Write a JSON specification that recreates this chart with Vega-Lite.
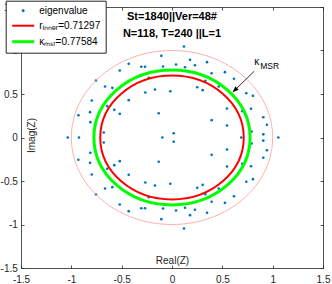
{
"$schema":"https://vega.github.io/schema/vega-lite/v6.json",
"width":302,"height":261,
"autosize":{"type":"none"},
"padding":{"left":21,"top":7,"right":9,"bottom":16},
"background":"white",
"config":{"view":{"stroke":null},"font":"Liberation Sans",
 "axis":{"grid":false,"domainColor":"#262626","tickColor":"#262626","labelColor":"#262626","titleColor":"#262626","labelFontSize":10,"titleFontSize":10,"titleFontWeight":"normal","tickSize":-3,"domainWidth":0.8,"tickWidth":0.8,"labelFont":"Liberation Sans","titleFont":"Liberation Sans","labelFlush":false,"labelOverlap":false}},
"datasets":{
 "eig":[
  {"re":-0.755,"im":0.655,"series":"eigenvalue"},{"re":-0.755,"im":-0.655,"series":"eigenvalue"},
  {"re":-0.519,"im":0.770,"series":"eigenvalue"},{"re":-0.519,"im":-0.770,"series":"eigenvalue"},
  {"re":-0.430,"im":0.847,"series":"eigenvalue"},{"re":-0.430,"im":-0.847,"series":"eigenvalue"},
  {"re":-0.305,"im":0.813,"series":"eigenvalue"},{"re":-0.305,"im":-0.813,"series":"eigenvalue"},
  {"re":-0.268,"im":0.813,"series":"eigenvalue"},{"re":-0.268,"im":-0.813,"series":"eigenvalue"},
  {"re":-0.106,"im":0.939,"series":"eigenvalue"},{"re":-0.106,"im":-0.939,"series":"eigenvalue"},
  {"re":-0.089,"im":0.816,"series":"eigenvalue"},{"re":-0.089,"im":-0.816,"series":"eigenvalue"},
  {"re":-0.231,"im":0.686,"series":"eigenvalue"},{"re":-0.231,"im":-0.686,"series":"eigenvalue"},
  {"re":0.119,"im":1.046,"series":"eigenvalue"},{"re":0.119,"im":-1.046,"series":"eigenvalue"},
  {"re":0.040,"im":0.839,"series":"eigenvalue"},{"re":0.040,"im":-0.839,"series":"eigenvalue"},
  {"re":0.179,"im":0.893,"series":"eigenvalue"},{"re":0.179,"im":-0.893,"series":"eigenvalue"},
  {"re":0.129,"im":0.808,"series":"eigenvalue"},{"re":0.129,"im":-0.808,"series":"eigenvalue"},
  {"re":0.228,"im":0.831,"series":"eigenvalue"},{"re":0.228,"im":-0.831,"series":"eigenvalue"},
  {"re":0.348,"im":0.866,"series":"eigenvalue"},{"re":0.348,"im":-0.866,"series":"eigenvalue"},
  {"re":0.394,"im":0.739,"series":"eigenvalue"},{"re":0.394,"im":-0.739,"series":"eigenvalue"},
  {"re":0.526,"im":0.751,"series":"eigenvalue"},{"re":0.526,"im":-0.751,"series":"eigenvalue"},
  {"re":0.331,"im":0.652,"series":"eigenvalue"},{"re":0.331,"im":-0.652,"series":"eigenvalue"},
  {"re":0.616,"im":0.675,"series":"eigenvalue"},{"re":0.616,"im":-0.675,"series":"eigenvalue"},
  {"re":-0.665,"im":0.586,"series":"eigenvalue"},{"re":-0.665,"im":-0.586,"series":"eigenvalue"},
  {"re":-0.593,"im":0.571,"series":"eigenvalue"},{"re":-0.593,"im":-0.571,"series":"eigenvalue"},
  {"re":-0.797,"im":0.425,"series":"eigenvalue"},{"re":-0.797,"im":-0.425,"series":"eigenvalue"},
  {"re":-0.643,"im":0.360,"series":"eigenvalue"},{"re":-0.643,"im":-0.360,"series":"eigenvalue"},
  {"re":-0.814,"im":0.291,"series":"eigenvalue"},{"re":-0.814,"im":-0.291,"series":"eigenvalue"},
  {"re":-0.930,"im":0.256,"series":"eigenvalue"},{"re":-0.930,"im":-0.256,"series":"eigenvalue"},
  {"re":-0.811,"im":0.176,"series":"eigenvalue"},{"re":-0.811,"im":-0.176,"series":"eigenvalue"},
  {"re":-0.678,"im":0.057,"series":"eigenvalue"},{"re":-0.678,"im":-0.057,"series":"eigenvalue"},
  {"re":-0.573,"im":0.318,"series":"eigenvalue"},{"re":-0.573,"im":-0.318,"series":"eigenvalue"},
  {"re":-0.430,"im":0.429,"series":"eigenvalue"},{"re":-0.430,"im":-0.429,"series":"eigenvalue"},
  {"re":-0.265,"im":0.517,"series":"eigenvalue"},{"re":-0.265,"im":-0.517,"series":"eigenvalue"},
  {"re":-0.169,"im":0.552,"series":"eigenvalue"},{"re":-0.169,"im":-0.552,"series":"eigenvalue"},
  {"re":-0.017,"im":0.532,"series":"eigenvalue"},{"re":-0.017,"im":-0.532,"series":"eigenvalue"},
  {"re":-0.519,"im":0.272,"series":"eigenvalue"},{"re":-0.519,"im":-0.272,"series":"eigenvalue"},
  {"re":-0.132,"im":0.279,"series":"eigenvalue"},{"re":-0.132,"im":-0.279,"series":"eigenvalue"},
  {"re":0.251,"im":0.578,"series":"eigenvalue"},{"re":0.251,"im":-0.578,"series":"eigenvalue"},
  {"re":0.305,"im":0.544,"series":"eigenvalue"},{"re":0.305,"im":-0.544,"series":"eigenvalue"},
  {"re":0.464,"im":0.586,"series":"eigenvalue"},{"re":0.464,"im":-0.586,"series":"eigenvalue"},
  {"re":0.546,"im":0.333,"series":"eigenvalue"},{"re":0.546,"im":-0.333,"series":"eigenvalue"},
  {"re":0.394,"im":0.199,"series":"eigenvalue"},{"re":0.394,"im":-0.199,"series":"eigenvalue"},
  {"re":0.546,"im":0.138,"series":"eigenvalue"},{"re":0.546,"im":-0.138,"series":"eigenvalue"},
  {"re":0.017,"im":0.049,"series":"eigenvalue"},{"re":0.017,"im":-0.049,"series":"eigenvalue"},
  {"re":0.738,"im":0.509,"series":"eigenvalue"},{"re":0.738,"im":-0.509,"series":"eigenvalue"},
  {"re":0.804,"im":0.479,"series":"eigenvalue"},{"re":0.804,"im":-0.479,"series":"eigenvalue"},
  {"re":0.698,"im":0.302,"series":"eigenvalue"},{"re":0.698,"im":-0.302,"series":"eigenvalue"},
  {"re":0.785,"im":0.330,"series":"eigenvalue"},{"re":0.785,"im":-0.330,"series":"eigenvalue"},
  {"re":0.907,"im":0.233,"series":"eigenvalue"},{"re":0.907,"im":-0.233,"series":"eigenvalue"},
  {"re":0.943,"im":0.146,"series":"eigenvalue"},{"re":0.943,"im":-0.146,"series":"eigenvalue"},
  {"re":0.791,"im":0.069,"series":"eigenvalue"},{"re":0.791,"im":-0.069,"series":"eigenvalue"},
  {"re":0.907,"im":0.036,"series":"eigenvalue"},{"re":0.907,"im":-0.036,"series":"eigenvalue"},
  {"re":-1.036,"im":0,"series":"eigenvalue"},{"re":-0.924,"im":0,"series":"eigenvalue"},
  {"re":-0.096,"im":0,"series":"eigenvalue"},{"re":0.688,"im":0,"series":"eigenvalue"},
  {"re":1.056,"im":0,"series":"eigenvalue"}
 ],
 "circ":[{"series":"rᵢₙₙₑᵣ=0.71297","r":0.71297},{"series":"κₘₛᵣ=0.77584","r":0.77584},{"series":"unit","r":1}],
 "arrow":[{"x0":0.817,"y0":0.762,"x1":0.603,"y1":0.521,"k":"κ","sub":"MSR","kx":0.841,"ky":0.868}],
 "notes":[{"t":"St=1840||Ver=48#","x":0,"y":1.38},{"t":"N=118, T=240  ||L=1","x":0,"y":1.19}]
},
"layer":[
 {"data":{"name":"eig"},"mark":{"type":"point","filled":true,"shape":"circle","size":7,"opacity":1},
  "encoding":{
   "x":{"field":"re","type":"quantitative","scale":{"domain":[-1.5,1.5],"nice":false,"zero":false},
        "axis":{"orient":"bottom","values":[-1.5,-1,-0.5,0,0.5,1,1.5],"labelExpr":"''+datum.value","title":"Real(Z)","titleY":-7.5,"titleBaseline":"middle","labelPadding":9.5}},
   "y":{"field":"im","type":"quantitative","scale":{"domain":[-1.5,1.5],"nice":false,"zero":false},
        "axis":{"orient":"left","values":[-1.5,-1,-0.5,0,0.5,1,1.5],"labelExpr":"''+datum.value","title":"Imag(Z)","titleX":10.5,"titleY":128,"titleBaseline":"middle","labelPadding":6.7}},
   "color":{"field":"series","type":"nominal",
        "scale":{"domain":["eigenvalue","rᵢₙₙₑᵣ=0.71297","κₘₛᵣ=0.77584"],"range":["#0072BD","#FF0000","#00FF00"]},
        "legend":{"orient":"none","legendX":-15.3,"legendY":-6.3,"title":null,"padding":5,"strokeColor":"#262626","fillColor":"white",
          "symbolType":{"expr":"datum.index === 0 ? 'M-0.2,0A0.2,0.2,0,1,1,0.2,0A0.2,0.2,0,1,1,-0.2,0Z' : 'M-2,0H2'"},
          "symbolStrokeWidth":{"expr":"datum.index === 0 ? 1 : (datum.index === 2 ? 3 : 2)"},
          "symbolSize":121,"labelFont":"Liberation Sans","labelFontSize":10,"labelColor":"black","rowPadding":5,"symbolOffset":7.5,"labelOffset":11}}
  }},
 {"data":{"name":"circ"},"transform":[{"filter":"datum.series === 'unit'"}],
  "mark":{"type":"point","shape":"M-1,0A1,0.8642,0,1,1,1,0A1,0.8642,0,1,1,-1,0Z","filled":false,"strokeWidth":0.8,"color":"#ff9a9a","opacity":1},
  "encoding":{
   "x":{"datum":0,"type":"quantitative","axis":{"orient":"top","labels":false,"title":null,"values":[-1.5,-1,-0.5,0,0.5,1,1.5]}},
   "y":{"datum":0,"type":"quantitative","axis":{"orient":"right","labels":false,"title":null,"values":[-1.5,-1,-0.5,0,0.5,1,1.5]}},
   "size":{"field":"r","type":"quantitative","scale":{"type":"pow","exponent":2,"domain":[0,1],"range":[0,40535]},"legend":null}
  }},
 {"data":{"name":"circ"},"transform":[{"filter":"datum.r < 0.75"}],
  "mark":{"type":"point","shape":"M-1,0A1,0.8642,0,1,1,1,0A1,0.8642,0,1,1,-1,0Z","filled":false,"strokeWidth":2,"opacity":1},
  "encoding":{
   "x":{"datum":0,"type":"quantitative","axis":null},"y":{"datum":0,"type":"quantitative","axis":null},
   "color":{"field":"series","type":"nominal"},
   "size":{"field":"r","type":"quantitative","legend":null}
  }},
 {"data":{"name":"circ"},"transform":[{"filter":"datum.r > 0.75 && datum.r < 0.9"}],
  "mark":{"type":"point","shape":"M-1,0A1,0.8642,0,1,1,1,0A1,0.8642,0,1,1,-1,0Z","filled":false,"strokeWidth":3,"opacity":1},
  "encoding":{
   "x":{"datum":0,"type":"quantitative","axis":null},"y":{"datum":0,"type":"quantitative","axis":null},
   "color":{"field":"series","type":"nominal"},
   "size":{"field":"r","type":"quantitative","legend":null}
  }},
 {"data":{"name":"arrow"},"mark":{"type":"rule","color":"black","strokeWidth":0.8},
  "encoding":{"x":{"field":"x0","type":"quantitative","axis":null},"y":{"field":"y0","type":"quantitative","axis":null},"x2":{"field":"x1"},"y2":{"field":"y1"}}},
 {"data":{"name":"arrow"},"mark":{"type":"point","shape":"M0,0L-0.6,1.5L0.6,1.5Z","filled":true,"color":"black","size":64,"angle":225,"opacity":1},
  "encoding":{"x":{"field":"x1","type":"quantitative","axis":null},"y":{"field":"y1","type":"quantitative","axis":null}}},
 {"data":{"name":"arrow"},"mark":{"type":"text","font":"Liberation Sans","fontSize":10,"align":"center","baseline":"middle","color":"black"},
  "encoding":{"x":{"field":"kx","type":"quantitative","axis":null},"y":{"field":"ky","type":"quantitative","axis":null},"text":{"field":"k"}}},
 {"data":{"name":"arrow"},"mark":{"type":"text","font":"Liberation Sans","fontSize":8.5,"align":"left","baseline":"middle","color":"black","dx":3.5,"dy":4},
  "encoding":{"x":{"field":"kx","type":"quantitative","axis":null},"y":{"field":"ky","type":"quantitative","axis":null},"text":{"field":"sub"}}},
 {"data":{"name":"notes"},"mark":{"type":"text","font":"Liberation Sans","fontSize":11,"fontWeight":"bold","align":"center","baseline":"middle","color":"black"},
  "encoding":{"x":{"field":"x","type":"quantitative","axis":null},"y":{"field":"y","type":"quantitative","axis":null},"text":{"field":"t"}}}
]
}
